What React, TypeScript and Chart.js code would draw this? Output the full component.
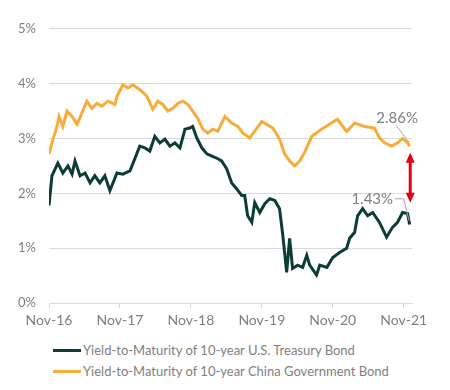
import React, { useEffect, useRef } from "react";
import { Chart, registerables } from "chart.js";

Chart.register(...registerables);

// ---- Data (x = months since Nov-2016) ----
const X_TICK_LABELS = ["Nov-16", "Nov-17", "Nov-18", "Nov-19", "Nov-20", "Nov-21"];
const Y_TICK_VALUES = [0, 1, 2, 3, 4, 5];
const SERIES_NAMES = [
  "Yield-to-Maturity of 10-year U.S. Treasury Bond",
  "Yield-to-Maturity of 10-year China Government Bond",
];

const US_MONTHS = [
  0, 0.5, 1.5, 2.35, 3.2, 3.9, 4.4, 5.25, 6.1, 6.95,
  7.75, 8.6, 9.45, 10.3, 11.5, 12.5, 13.7, 14.55, 15.35, 16.2,
  17.05, 17.9, 18.75, 19.6, 20.45, 21.3, 22.15, 23, 23.8, 24.3,
  25, 25.85, 26.7, 27.55, 28.4, 29.2, 30.05, 30.9, 31.75, 32.6,
  33.1, 33.6, 34.3, 34.8, 35.65, 36.5, 37.35, 38.2, 39, 39.55,
  40.2, 40.7, 41.2, 42.05, 42.9, 43.6, 44.1, 45.25, 45.8, 47,
  48, 49.15, 50.35, 50.85, 51.7, 52.2, 53.05, 53.9, 54.75, 55.9,
  57.1, 58.1, 58.95, 59.8, 60.65, 61,
];
const US_YIELDS = [
  1.78, 2.32, 2.55, 2.37, 2.5, 2.35, 2.59, 2.32, 2.37, 2.19,
  2.32, 2.19, 2.32, 2.05, 2.37, 2.35, 2.41, 2.64, 2.86, 2.83,
  2.77, 3.04, 2.92, 2.99, 2.86, 2.92, 2.83, 3.17, 3.19, 3.22,
  3.01, 2.83, 2.72, 2.68, 2.64, 2.59, 2.45, 2.19, 2.08, 1.96,
  1.96, 1.59, 1.47, 1.83, 1.65, 1.81, 1.9, 1.87, 1.72, 1.23,
  0.56, 1.18, 0.63, 0.69, 0.65, 0.87, 0.69, 0.51, 0.69, 0.65,
  0.83, 0.92, 1.0, 1.18, 1.29, 1.59, 1.72, 1.59, 1.65, 1.47,
  1.2, 1.38, 1.47, 1.65, 1.63, 1.43,
];

const CN_MONTHS = [
  0, 0.5, 1.35, 1.7, 2.35, 3.05, 3.9, 4.75, 5.55, 6.4,
  7.25, 8.1, 8.95, 9.95, 11.15, 11.5, 12.5, 13.35, 14.2, 15.35,
  16.55, 17.55, 18.4, 19.25, 20.1, 20.95, 21.8, 22.65, 23.5, 24.3,
  25.15, 26, 26.85, 27.7, 28.55, 29.75, 30.9, 31.95, 32.75, 33.95,
  36, 37.85, 39, 39.85, 40.7, 41.55, 42.4, 43.25, 44.45, 46.1,
  48.8, 50.35, 51.7, 53.4, 55.05, 55.9, 56.75, 57.95, 58.95, 59.8,
  60.65, 61,
];
const CN_YIELDS = [
  2.72, 2.92, 3.22, 3.4, 3.22, 3.5, 3.4, 3.26, 3.46, 3.68,
  3.55, 3.64, 3.59, 3.68, 3.62, 3.77, 3.98, 3.92, 3.98, 3.89,
  3.77, 3.53, 3.68, 3.62, 3.5, 3.55, 3.64, 3.68, 3.62, 3.5,
  3.37, 3.17, 3.1, 3.17, 3.13, 3.4, 3.28, 3.22, 3.1, 3.01,
  3.31, 3.19, 2.99, 2.72, 2.59, 2.5, 2.59, 2.75, 3.04, 3.17,
  3.35, 3.13, 3.28, 3.22, 3.19, 3.01, 2.92, 2.86, 2.92, 3.0,
  2.92, 2.86,
];

const US_END_LABEL = "1.43%";
const CN_END_LABEL = "2.86%";
const SPREAD_ARROW_TOP = 2.74;
const SPREAD_ARROW_BOTTOM = 1.83;

// ---- Styles ----
const GREEN = "#0c3c37";
const ORANGE = "#f7ab38";
const GRID = "#d9d9d9";
const TEXT = "#7f7f7f";
const FONT = "Lato";

const annotatePlugin = {
  id: "annotate",
  afterDatasetsDraw(chart: any) {
    const { ctx } = chart;
    const xs = chart.scales.x;
    const ys = chart.scales.y;
    const px = (v: number) => xs.getPixelForValue(v);
    const py = (v: number) => ys.getPixelForValue(v);
    ctx.save();

    // leader lines
    ctx.strokeStyle = "#a6a6a6";
    ctx.lineWidth = 1;
    ctx.beginPath();
    ctx.moveTo(px(58.7), py(3.24));
    ctx.lineTo(px(60.9), py(2.93));
    ctx.stroke();
    ctx.beginPath();
    ctx.moveTo(px(58.5), py(1.9));
    ctx.lineTo(px(60.0), py(1.9));
    ctx.lineTo(px(60.9), py(1.5));
    ctx.stroke();

    // end labels
    ctx.fillStyle = TEXT;
    ctx.font = `15px ${FONT}`;
    ctx.textAlign = "right";
    ctx.textBaseline = "middle";
    ctx.fillText(CN_END_LABEL, px(62.4), py(3.37));
    ctx.fillText(US_END_LABEL, px(58.2), py(1.9));

    // red double arrow
    const ax = px(61.1);
    const top = py(SPREAD_ARROW_TOP);
    const bot = py(SPREAD_ARROW_BOTTOM);
    const head = 10;
    const hw = 4.5;
    ctx.strokeStyle = "#e3000f";
    ctx.fillStyle = "#e3000f";
    ctx.lineWidth = 3;
    ctx.beginPath();
    ctx.moveTo(ax, top + head - 1);
    ctx.lineTo(ax, bot - head + 1);
    ctx.stroke();
    ctx.beginPath();
    ctx.moveTo(ax, top);
    ctx.lineTo(ax - hw, top + head);
    ctx.lineTo(ax + hw, top + head);
    ctx.closePath();
    ctx.fill();
    ctx.beginPath();
    ctx.moveTo(ax, bot);
    ctx.lineTo(ax - hw, bot - head);
    ctx.lineTo(ax + hw, bot - head);
    ctx.closePath();
    ctx.fill();

    ctx.restore();
  },
};

export default function App() {
  const ref = useRef<HTMLCanvasElement>(null);

  useEffect(() => {
    if (!ref.current) return;
    const chart = new Chart(ref.current, {
      type: "line",
      data: {
        datasets: [
          {
            label: SERIES_NAMES[0],
            data: US_MONTHS.map((m, i) => ({ x: m, y: US_YIELDS[i] })),
            borderColor: GREEN,
            backgroundColor: GREEN,
            borderWidth: 3,
            pointRadius: 0,
            tension: 0,
          },
          {
            label: SERIES_NAMES[1],
            data: CN_MONTHS.map((m, i) => ({ x: m, y: CN_YIELDS[i] })),
            borderColor: ORANGE,
            backgroundColor: ORANGE,
            borderWidth: 3,
            pointRadius: 0,
            tension: 0,
          },
        ],
      },
      options: {
        responsive: false,
        animation: false,
        devicePixelRatio: 1,
        layout: { padding: { left: 0, top: 19, right: 30, bottom: 5 } },
        plugins: {
          legend: { display: false },
          tooltip: { enabled: false },
        },
        scales: {
          x: {
            type: "linear",
            min: 0,
            max: 61.4,
            afterBuildTicks: (s: any) => {
              s.ticks = X_TICK_LABELS.map((_, i) => ({ value: i * 12 }));
            },
            afterFit: (s: any) => {
              s.height = 30;
            },
            ticks: {
              autoSkip: false,
              maxRotation: 0,
              padding: 4,
              color: TEXT,
              font: { family: FONT, size: 14 },
              callback: (v: any) => X_TICK_LABELS[Math.round(Number(v) / 12)],
            },
            grid: {
              drawOnChartArea: false,
              drawTicks: true,
              tickLength: 5,
              color: GRID,
            },
            border: { display: true, color: GRID },
          },
          y: {
            min: 0,
            max: 5,
            afterBuildTicks: (s: any) => {
              s.ticks = Y_TICK_VALUES.map((v) => ({ value: v }));
            },
            afterFit: (s: any) => {
              s.width = 41;
            },
            ticks: {
              padding: 13,
              color: TEXT,
              font: { family: FONT, size: 13 },
              callback: (v: any) => `${v}%`,
            },
            grid: { color: GRID, drawTicks: false },
            border: { display: false },
          },
        },
      },
      plugins: [annotatePlugin],
    });
    return () => chart.destroy();
  }, []);

  const legendColors = [GREEN, ORANGE];

  return (
    <div style={{ position: "relative", width: 434, height: 374 }}>
      <canvas ref={ref} width={434} height={330} style={{ display: "block" }} />
      {SERIES_NAMES.map((name, i) => (
        <div
          key={name}
          style={{
            position: "absolute",
            left: 45,
            top: 333 + i * 21,
            height: 18,
            display: "flex",
            alignItems: "center",
            fontFamily: FONT,
            fontSize: 13,
            color: TEXT,
            whiteSpace: "nowrap",
          }}
        >
          <span
            style={{
              display: "inline-block",
              width: 28,
              height: 3,
              background: legendColors[i],
              marginRight: 2,
            }}
          />
          {name}
        </div>
      ))}
    </div>
  );
}
